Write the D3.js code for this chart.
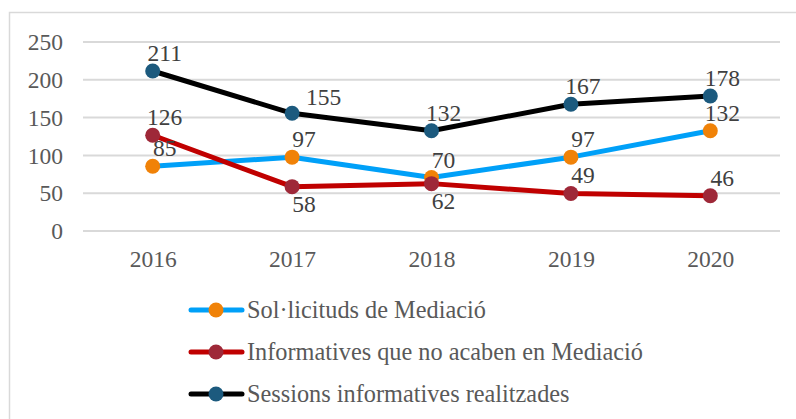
<!DOCTYPE html>
<html>
<head>
<meta charset="utf-8">
<script src="https://cdn.jsdelivr.net/npm/d3@7"></script>
<style>
  body { margin: 0; background: #fff; }
  svg { display: block; }
  svg text { font-family: "Liberation Serif", Tinos, "Times New Roman", Times, serif; }
</style>
</head>
<body>
<svg id="chart"></svg>
<script>
const years = ["2016", "2017", "2018", "2019", "2020"]
const seriesNames = ["Sol·licituds de Mediació", "Informatives que no acaben en Mediació", "Sessions informatives realitzades"]
const solValues = [85, 97, 70, 97, 132]
const infoValues = [126, 58, 62, 49, 46]
const sessValues = [211, 155, 132, 167, 178]
const yTicks = [0, 50, 100, 150, 200, 250]
// where Excel put each data label
const solLabelPos = ["above", "above", "above", "above", "above"]
const infoLabelPos = ["above", "below", "below", "above", "above"]
const sessLabelPos = ["above", "right", "above", "above", "above"]

const width = 796, height = 419
const textColor = "#595959"
const gridColor = "#d9d9d9"
const numberSize = 23.5
const legendSize = 24.3

const series = [
    { name: seriesNames[0], values: solValues, labelPos: solLabelPos, line: "#00a0f8", marker: "#f08208" },
    { name: seriesNames[1], values: infoValues, labelPos: infoLabelPos, line: "#c00000", marker: "#9e2838" },
    { name: seriesNames[2], values: sessValues, labelPos: sessLabelPos, line: "#000000", marker: "#1c5a7e" }
]

const svg = d3.select("svg#chart")
    .attr("width", width)
    .attr("height", height)

// chart area border (runs off the right and bottom like the source)
svg.append("rect")
    .attr("x", 9.5).attr("y", 12.5)
    .attr("width", 800).attr("height", 420)
    .style("fill", "#fff")
    .style("stroke", gridColor)
    .style("stroke-width", 1.5)

const plot = { left: 83, right: 780, top: 41.5, bottom: 230.5 }

const x = d3.scalePoint()
    .domain(years)
    .range([plot.left, plot.right])
    .padding(0.5)

const y = d3.scaleLinear()
    .domain([0, 250])
    .range([plot.bottom, plot.top])

function styleText(sel, fill, size) {
    sel.attr("font-size", size)
        .attr("fill", fill)
}

// y axis with gridlines
const yAxis = svg.append("g")
    .attr("transform", `translate(${plot.left},0)`)
    .call(d3.axisLeft(y).tickValues(yTicks).tickSize(-(plot.right - plot.left)).tickPadding(20))
    .attr("font-family", null).attr("font-size", null)
yAxis.select(".domain").remove()
yAxis.selectAll(".tick line").attr("stroke", gridColor).attr("stroke-width", 2)
yAxis.selectAll(".tick text").call(styleText, textColor, numberSize).attr("dy", "0.35em")

// x axis labels only
const xAxis = svg.append("g")
    .attr("transform", `translate(0,${plot.bottom})`)
    .call(d3.axisBottom(x).tickSize(0).tickPadding(20))
    .attr("font-family", null).attr("font-size", null)
xAxis.select(".domain").remove()
xAxis.selectAll(".tick text").call(styleText, textColor, numberSize)

const line = d3.line()
    .x((d, i) => x(years[i]))
    .y(d => y(d))

series.forEach(s => {
    const g = svg.append("g").attr("class", "series")
    g.append("path")
        .attr("d", line(s.values))
        .style("fill", "none")
        .style("stroke", s.line)
        .style("stroke-width", 5)
        .style("stroke-linejoin", "round")
        .style("stroke-linecap", "round")
    g.selectAll("circle")
        .data(s.values)
        .join("circle")
        .attr("cx", (d, i) => x(years[i]))
        .attr("cy", d => y(d))
        .attr("r", 7.5)
        .style("fill", s.marker)
})

// data labels on top of all lines
series.forEach(s => {
    svg.append("g").selectAll("text")
        .data(s.values)
        .join("text")
        .attr("x", (d, i) => {
            const p = s.labelPos[i]
            return x(years[i]) + (p == "right" ? 14 : 12)
        })
        .attr("y", (d, i) => {
            const p = s.labelPos[i]
            if (p == "below") return y(d) + 25
            if (p == "right") return y(d) - 8
            return y(d) - 10
        })
        .attr("text-anchor", (d, i) => s.labelPos[i] == "right" ? "start" : "middle")
        .call(styleText, "#404040", numberSize)
        .text(d => d)
})

// legend
const legendRows = [310, 352, 394]
const legend = svg.append("g")
series.forEach((s, i) => {
    const row = legend.append("g").attr("transform", `translate(0,${legendRows[i]})`)
    row.append("line")
        .attr("x1", 191).attr("x2", 242)
        .attr("y1", 0).attr("y2", 0)
        .style("stroke", s.line)
        .style("stroke-width", 5)
        .style("stroke-linecap", "round")
    row.append("circle")
        .attr("cx", 216).attr("cy", 0).attr("r", 7.5)
        .style("fill", s.marker)
    row.append("text")
        .attr("x", 247).attr("y", 0)
        .attr("dy", "0.33em")
        .call(styleText, textColor, legendSize)
        .text(s.name)
})
</script>
</body>
</html>
